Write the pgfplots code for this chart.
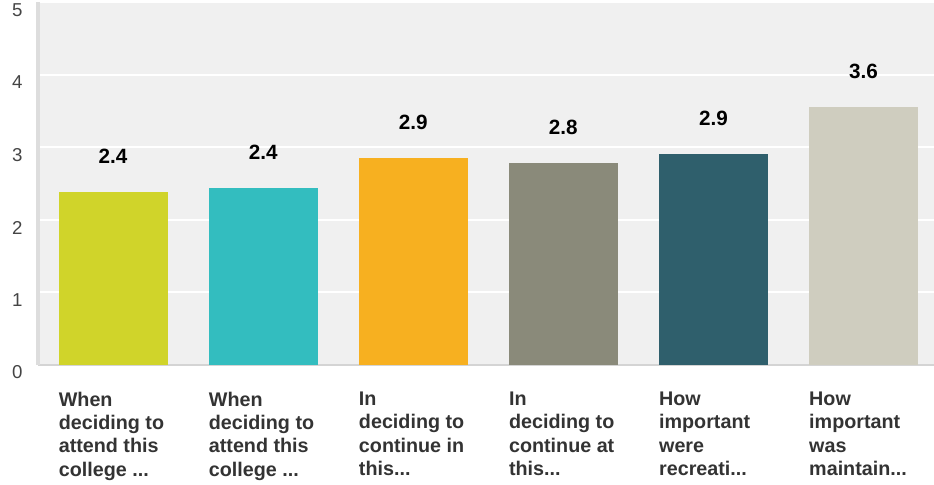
\documentclass[border=0pt]{standalone}
\usepackage{fontspec}
\setmainfont{Liberation Sans}
\usepackage{pgfplots}
\pgfplotsset{compat=1.18}

\definecolor{barA}{HTML}{D0D42A}
\definecolor{barB}{HTML}{33BDBF}
\definecolor{barC}{HTML}{F7B020}
\definecolor{barD}{HTML}{8A8A7A}
\definecolor{barE}{HTML}{2F5F6C}
\definecolor{barF}{HTML}{CFCDBF}
\definecolor{plotbg}{HTML}{F0F0F0}
\definecolor{axisline}{HTML}{D4D4D4}
\definecolor{ticktext}{HTML}{444444}
\definecolor{cattext}{HTML}{333333}

% truncation marker for long category names
\newcommand{\trunc}{...}

\begin{document}
\begin{tikzpicture}
\begin{axis}[
  scale only axis,
  width=672pt, height=271.875pt,
  xmin=-0.5, xmax=5.47, ymin=0, ymax=5,
  clip=false,
  axis background/.style={fill=plotbg},
  axis x line*=bottom, axis y line*=left,
  x axis line style={draw=axisline, line width=1.5pt},
  y axis line style={draw=axisline!80!white, line width=2.5pt},
  ymajorgrids,
  grid style={white, line width=1.5pt},
  major tick length=0pt,
  ytick={0,1,2,3,4,5},
  xtick={0,1,2,3,4,5},
  xticklabels={
    {When\\deciding to\\attend this\\college \trunc},
    {When\\deciding to\\attend this\\college \trunc},
    {In\\deciding to\\continue in\\this\trunc},
    {In\\deciding to\\continue at\\this\trunc},
    {How\\important\\were\\recreati\trunc},
    {How\\important\\was\\maintain\trunc}},
  /pgf/number format/assume math mode=true,
  yticklabel style={anchor=east, inner sep=0pt, xshift=-11.5pt, yshift=-6pt,
    font=\fontsize{14}{16}\selectfont, text=ticktext},
  xticklabel style={anchor=north west, align=left, inner sep=0pt,
    xshift=-40.875pt, yshift=-20.4pt,
    font=\fontsize{14.8}{17.5}\selectfont\bfseries, text=cattext},
  ybar, bar width=81.75pt, bar shift=0pt,
  point meta=explicit symbolic,
  nodes near coords={\pgfplotspointmeta},
  every node near coord/.append style={font=\fontsize{15.5}{18}\selectfont\bfseries,
    text=black, anchor=south, inner sep=0pt, yshift=21.2pt},
]
\addplot[fill=barA, draw=none] coordinates {(0,2.38) [2.4]};
\addplot[fill=barB, draw=none] coordinates {(1,2.43) [2.4]};
\addplot[fill=barC, draw=none] coordinates {(2,2.85) [2.9]};
\addplot[fill=barD, draw=none] coordinates {(3,2.78) [2.8]};
\addplot[fill=barE, draw=none] coordinates {(4,2.90) [2.9]};
\addplot[fill=barF, draw=none] coordinates {(5,3.55) [3.6]};
\coordinate (bbsw) at (axis cs:-0.7533,-1.662);
\coordinate (bbne) at (axis cs:5.47,5.0276);
\end{axis}
\pgfresetboundingbox
\path[use as bounding box] (bbsw) rectangle (bbne);
\end{tikzpicture}
\end{document}
